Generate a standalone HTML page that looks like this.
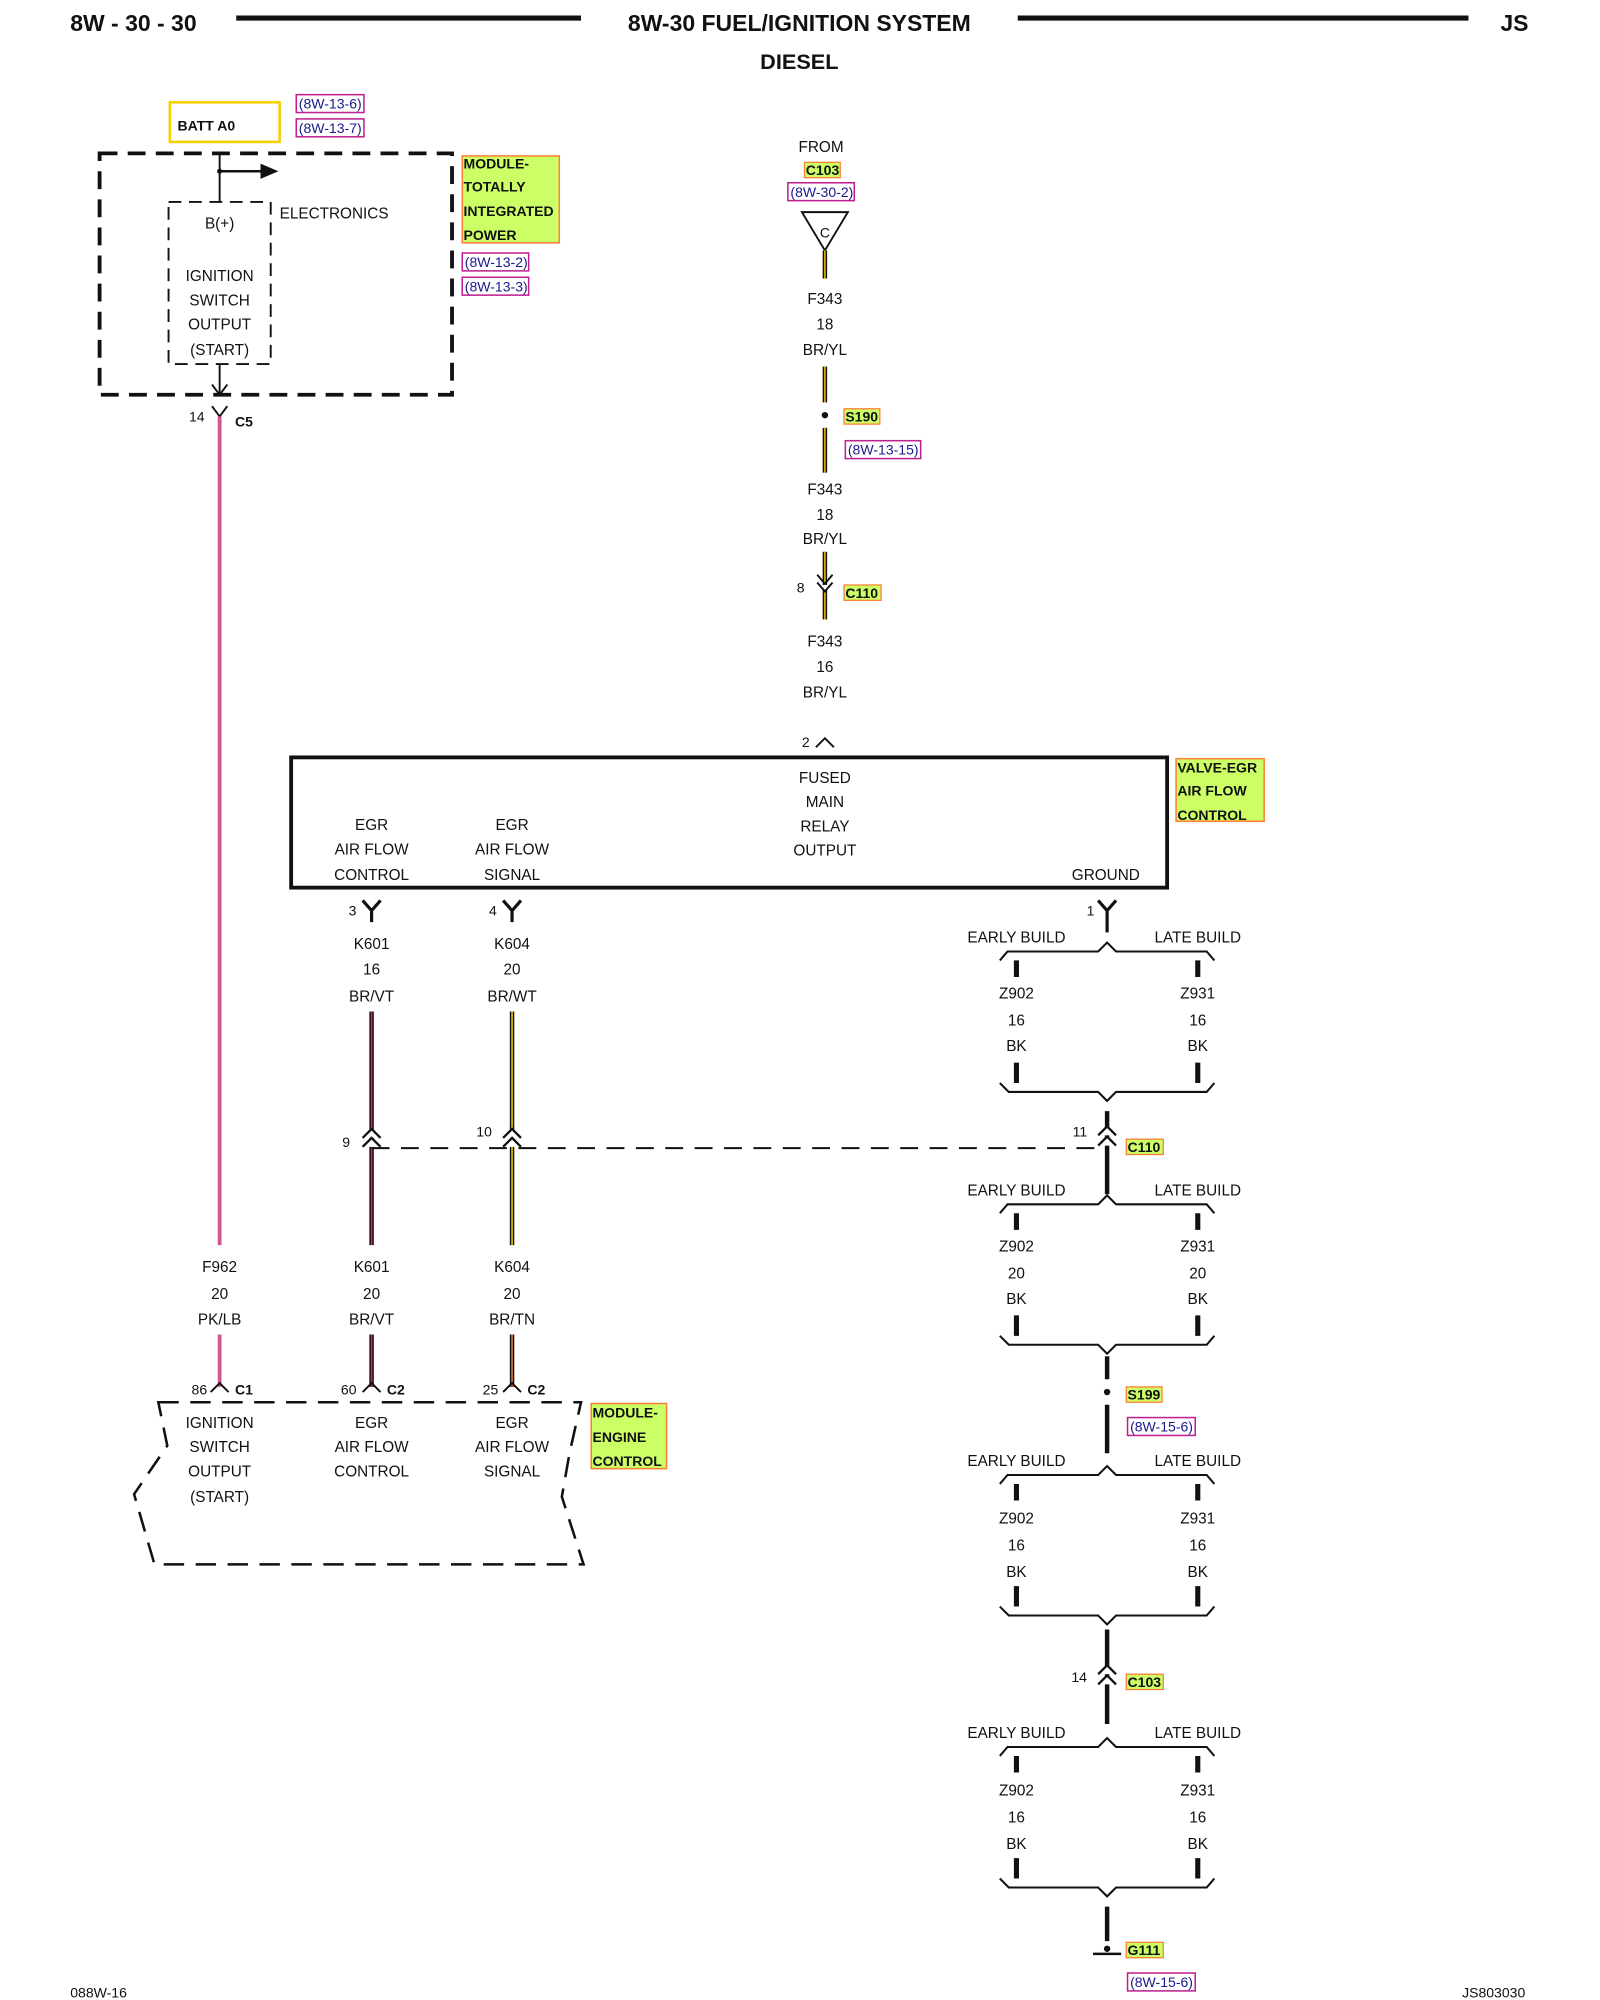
<!DOCTYPE html>
<html><head><meta charset="utf-8"><style>
html,body{margin:0;padding:0;background:#fff}
svg{display:block}
text{font-family:"Liberation Sans",Arial,sans-serif;font-size:12px;fill:#111}
.b{font-weight:bold}
.c{text-anchor:middle}
.lab{font-weight:bold;font-size:11px}
.ref{font-size:11px;fill:#1a1a8c}
</style></head><body>
<svg width="1600" height="2000" viewBox="0 0 1253 1566" xmlns="http://www.w3.org/2000/svg">
<defs>
<g id="grp">
 <text x="796" y="-7" class="c">EARLY BUILD</text>
 <text x="938" y="-7" class="c">LATE BUILD</text>
 <path d="M783,7 L789,0 L860,0 L867,-7 L874,0 L945,0 L951,7" fill="none" stroke="#111" stroke-width="1.6"/>
 <path d="M796,7 V20 M938,7 V20 M796,87 V103 M938,87 V103" stroke="#111" stroke-width="4"/>
 <path d="M783,103 L790,110 L860,110 L867,117 L874,110 L945,110 L951,103" fill="none" stroke="#111" stroke-width="1.6"/>
</g>
</defs>
<!-- header -->
<text x="55" y="24" class="b" style="font-size:18px">8W - 30 - 30</text>
<line x1="185" y1="14" x2="455" y2="14" stroke="#111" stroke-width="4"/>
<text x="626" y="24" class="b c" style="font-size:18px">8W-30 FUEL/IGNITION SYSTEM</text>
<line x1="797" y1="14" x2="1150" y2="14" stroke="#111" stroke-width="4"/>
<text x="1175" y="24" class="b" style="font-size:18px">JS</text>
<text x="626" y="54" class="b c" style="font-size:17px">DIESEL</text>

<!-- BATT A0 -->
<rect x="133" y="80" width="86" height="31" fill="none" stroke="#f5d000" stroke-width="2"/>
<text x="139" y="102" class="lab">BATT A0</text>
<rect x="232" y="74" width="53" height="14" fill="none" stroke="#c0208f" stroke-width="1.2"/>
<text x="234" y="85" class="ref">(8W-13-6)</text>
<rect x="232" y="93" width="53" height="14" fill="none" stroke="#c0208f" stroke-width="1.2"/>
<text x="234" y="104" class="ref">(8W-13-7)</text>

<!-- TIPM -->
<rect x="78" y="120" width="276" height="189" fill="none" stroke="#111" stroke-width="3" stroke-dasharray="14,8"/>
<rect x="132" y="158" width="80" height="127" fill="none" stroke="#111" stroke-width="1.5" stroke-dasharray="10,6"/>
<line x1="172" y1="120" x2="172" y2="158" stroke="#111" stroke-width="1.5"/>
<circle cx="172" cy="134" r="2" fill="#111"/>
<line x1="172" y1="134" x2="205" y2="134" stroke="#111" stroke-width="2"/>
<path d="M204,128 L218,134 L204,140 Z" fill="#111"/>
<text x="219" y="171">ELECTRONICS</text>
<text x="172" y="179" class="c">B(+)</text>
<text x="172" y="220" class="c">IGNITION</text>
<text x="172" y="239" class="c">SWITCH</text>
<text x="172" y="258" class="c">OUTPUT</text>
<text x="172" y="278" class="c">(START)</text>
<line x1="172" y1="285" x2="172" y2="309" stroke="#111" stroke-width="1.5"/>
<path d="M166,301 L172,309 L178,301" fill="none" stroke="#111" stroke-width="1.5"/>
<rect x="362" y="122" width="76" height="68" fill="#ccff66" stroke="#ff7f33" stroke-width="1.2"/>
<text x="363" y="132" class="lab">MODULE-</text>
<text x="363" y="150" class="lab">TOTALLY</text>
<text x="363" y="169" class="lab">INTEGRATED</text>
<text x="363" y="188" class="lab">POWER</text>
<rect x="362" y="198" width="52" height="14" fill="none" stroke="#c0208f" stroke-width="1.2"/>
<text x="364" y="209" class="ref">(8W-13-2)</text>
<rect x="362" y="217" width="52" height="14" fill="none" stroke="#c0208f" stroke-width="1.2"/>
<text x="364" y="228" class="ref">(8W-13-3)</text>

<!-- F962 wire -->
<text x="148" y="330" style="font-size:11px">14</text>
<path d="M166,318 L172,326 L178,318" fill="none" stroke="#111" stroke-width="1.5"/>
<text x="184" y="334" class="lab">C5</text>
<line x1="172" y1="326" x2="172" y2="975" stroke="#e0508a" stroke-width="3"/>
<line x1="172" y1="326" x2="172" y2="975" stroke="#6a7fd8" stroke-width="1"/>
<text x="172" y="996" class="c">F962</text>
<text x="172" y="1017" class="c">20</text>
<text x="172" y="1037" class="c">PK/LB</text>
<line x1="172" y1="1045" x2="172" y2="1086" stroke="#e0508a" stroke-width="3"/>
<line x1="172" y1="1045" x2="172" y2="1086" stroke="#6a7fd8" stroke-width="1"/>
<path d="M165,1090 L172,1083 L179,1090" fill="none" stroke="#111" stroke-width="1.5"/>
<text x="150" y="1092" style="font-size:11px">86</text>
<text x="184" y="1092" class="lab">C1</text>

<!-- center F343 -->
<text x="643" y="119" class="c">FROM</text>
<rect x="630" y="127" width="28" height="12" fill="#ccff66" stroke="#ff7f33"/>
<text x="631" y="137" class="lab">C103</text>
<rect x="617" y="143" width="52" height="14" fill="none" stroke="#c0208f" stroke-width="1.2"/>
<text x="619" y="154" class="ref">(8W-30-2)</text>
<path d="M628,166 L664,166 L646,196 Z" fill="none" stroke="#111" stroke-width="1.5"/>
<text x="646" y="186" class="c" style="font-size:11px">C</text>
<g stroke-width="3.5">
<line x1="646" y1="196" x2="646" y2="218" stroke="#111"/>
<line x1="646" y1="287" x2="646" y2="315" stroke="#111"/>
<line x1="646" y1="335" x2="646" y2="370" stroke="#111"/>
<line x1="646" y1="432" x2="646" y2="458" stroke="#111"/>
<line x1="646" y1="462" x2="646" y2="485" stroke="#111"/>
</g>
<g stroke-width="1.2" stroke="#f0c000">
<line x1="646" y1="196" x2="646" y2="218"/>
<line x1="646" y1="287" x2="646" y2="315"/>
<line x1="646" y1="335" x2="646" y2="370"/>
<line x1="646" y1="432" x2="646" y2="458"/>
<line x1="646" y1="462" x2="646" y2="485"/>
</g>
<text x="646" y="238" class="c">F343</text>
<text x="646" y="258" class="c">18</text>
<text x="646" y="278" class="c">BR/YL</text>
<circle cx="646" cy="325" r="2.5" fill="#111"/>
<rect x="661" y="320" width="28" height="12" fill="#ccff66" stroke="#ff7f33"/>
<text x="662" y="330" class="lab">S190</text>
<rect x="662" y="345" width="59" height="14" fill="none" stroke="#c0208f" stroke-width="1.2"/>
<text x="664" y="356" class="ref">(8W-13-15)</text>
<text x="646" y="387" class="c">F343</text>
<text x="646" y="407" class="c">18</text>
<text x="646" y="426" class="c">BR/YL</text>
<path d="M640,450 L646,457 L652,450 M640,456 L646,463 L652,456" fill="none" stroke="#111" stroke-width="1.5"/>
<text x="624" y="464" style="font-size:11px">8</text>
<rect x="661" y="458" width="29" height="12" fill="#ccff66" stroke="#ff7f33"/>
<text x="662" y="468" class="lab">C110</text>
<text x="646" y="506" class="c">F343</text>
<text x="646" y="526" class="c">16</text>
<text x="646" y="546" class="c">BR/YL</text>
<line x1="646" y1="556" x2="646" y2="578" stroke="#111" stroke-width="0"/>
<path d="M639,585 L646,578 L653,585" fill="none" stroke="#111" stroke-width="1.5"/>
<text x="628" y="585" style="font-size:11px">2</text>

<!-- main box -->
<rect x="228" y="593" width="686" height="102" fill="none" stroke="#111" stroke-width="3"/>
<text x="646" y="613" class="c">FUSED</text>
<text x="646" y="632" class="c">MAIN</text>
<text x="646" y="651" class="c">RELAY</text>
<text x="646" y="670" class="c">OUTPUT</text>
<text x="291" y="650" class="c">EGR</text>
<text x="291" y="669" class="c">AIR FLOW</text>
<text x="291" y="689" class="c">CONTROL</text>
<text x="401" y="650" class="c">EGR</text>
<text x="401" y="669" class="c">AIR FLOW</text>
<text x="401" y="689" class="c">SIGNAL</text>
<text x="866" y="689" class="c">GROUND</text>
<rect x="921" y="594" width="69" height="49" fill="#ccff66" stroke="#ff7f33" stroke-width="1.2"/>
<text x="922" y="605" class="lab">VALVE-EGR</text>
<text x="922" y="623" class="lab">AIR FLOW</text>
<text x="922" y="642" class="lab">CONTROL</text>

<!-- EGR wires -->
<path d="M284,705 L291,713 L298,705 M291,713 V722" fill="none" stroke="#111" stroke-width="2.5"/>
<path d="M394,705 L401,713 L408,705 M401,713 V722" fill="none" stroke="#111" stroke-width="2.5"/>
<text x="273" y="717" style="font-size:11px">3</text>
<text x="383" y="717" style="font-size:11px">4</text>
<text x="291" y="743" class="c">K601</text>
<text x="291" y="763" class="c">16</text>
<text x="291" y="784" class="c">BR/VT</text>
<text x="401" y="743" class="c">K604</text>
<text x="401" y="763" class="c">20</text>
<text x="401" y="784" class="c">BR/WT</text>
<g stroke="#111" stroke-width="3.5">
<line x1="291" y1="792" x2="291" y2="975"/><line x1="401" y1="792" x2="401" y2="975"/>
<line x1="291" y1="1045" x2="291" y2="1086"/><line x1="401" y1="1045" x2="401" y2="1086"/>
</g>
<g stroke-width="1.2">
<line x1="291" y1="792" x2="291" y2="975" stroke="#e02040"/><line x1="401" y1="792" x2="401" y2="975" stroke="#f0d000"/>
<line x1="291" y1="1045" x2="291" y2="1086" stroke="#e02040"/><line x1="401" y1="1045" x2="401" y2="1086" stroke="#e08040"/>
</g>
<path d="M284,891 L291,884 L298,891 M284,898 L291,891 L298,898 M394,891 L401,884 L408,891 M394,898 L401,891 L408,898" fill="#fff" stroke="#111" stroke-width="1.8"/>
<text x="268" y="898" style="font-size:11px">9</text>
<text x="373" y="890" style="font-size:11px">10</text>
<line x1="291" y1="899" x2="862" y2="899" stroke="#111" stroke-width="1.5" stroke-dasharray="14,9"/>
<text x="291" y="996" class="c">K601</text>
<text x="291" y="1017" class="c">20</text>
<text x="291" y="1037" class="c">BR/VT</text>
<text x="401" y="996" class="c">K604</text>
<text x="401" y="1017" class="c">20</text>
<text x="401" y="1037" class="c">BR/TN</text>
<path d="M284,1090 L291,1083 L298,1090 M394,1090 L401,1083 L408,1090" fill="none" stroke="#111" stroke-width="1.5"/>
<text x="267" y="1092" style="font-size:11px">60</text>
<text x="303" y="1092" class="lab">C2</text>
<text x="378" y="1092" style="font-size:11px">25</text>
<text x="413" y="1092" class="lab">C2</text>

<!-- ECM -->
<path d="M124,1098 L455,1098 L446,1138 L440,1172 L457,1225 L121,1225 L105,1170 L131,1132 Z" fill="none" stroke="#111" stroke-width="2" stroke-dasharray="16,9"/>
<text x="172" y="1118" class="c">IGNITION</text>
<text x="172" y="1137" class="c">SWITCH</text>
<text x="172" y="1156" class="c">OUTPUT</text>
<text x="172" y="1176" class="c">(START)</text>
<text x="291" y="1118" class="c">EGR</text>
<text x="291" y="1137" class="c">AIR FLOW</text>
<text x="291" y="1156" class="c">CONTROL</text>
<text x="401" y="1118" class="c">EGR</text>
<text x="401" y="1137" class="c">AIR FLOW</text>
<text x="401" y="1156" class="c">SIGNAL</text>
<rect x="463" y="1099" width="59" height="51" fill="#ccff66" stroke="#ff7f33" stroke-width="1.2"/>
<text x="464" y="1110" class="lab">MODULE-</text>
<text x="464" y="1129" class="lab">ENGINE</text>
<text x="464" y="1148" class="lab">CONTROL</text>

<!-- ground chain -->
<path d="M860,705 L867,713 L874,705 M867,713 V730" fill="none" stroke="#111" stroke-width="2.5"/>
<text x="851" y="717" style="font-size:11px">1</text>
<use href="#grp" transform="translate(0,745)"/>
<text x="796" y="782" class="c">Z902</text><text x="796" y="803" class="c">16</text><text x="796" y="823" class="c">BK</text>
<text x="938" y="782" class="c">Z931</text><text x="938" y="803" class="c">16</text><text x="938" y="823" class="c">BK</text>
<line x1="867" y1="870" x2="867" y2="935" stroke="#111" stroke-width="3.5"/>
<path d="M860,889 L867,882 L874,889 M860,897 L867,890 L874,897" fill="#fff" stroke="#111" stroke-width="1.8"/>
<text x="840" y="890" style="font-size:11px">11</text>
<rect x="882" y="892" width="29" height="12" fill="#ccff66" stroke="#ff7f33"/>
<text x="883" y="902" class="lab">C110</text>

<use href="#grp" transform="translate(0,943)"/>
<text x="796" y="980" class="c">Z902</text><text x="796" y="1001" class="c">20</text><text x="796" y="1021" class="c">BK</text>
<text x="938" y="980" class="c">Z931</text><text x="938" y="1001" class="c">20</text><text x="938" y="1021" class="c">BK</text>
<line x1="867" y1="1062" x2="867" y2="1080" stroke="#111" stroke-width="3.5"/>
<circle cx="867" cy="1090" r="2.5" fill="#111"/>
<line x1="867" y1="1100" x2="867" y2="1138" stroke="#111" stroke-width="3.5"/>
<rect x="882" y="1086" width="28" height="12" fill="#ccff66" stroke="#ff7f33"/>
<text x="883" y="1096" class="lab">S199</text>
<rect x="883" y="1110" width="53" height="14" fill="none" stroke="#c0208f" stroke-width="1.2"/>
<text x="885" y="1121" class="ref">(8W-15-6)</text>

<use href="#grp" transform="translate(0,1155)"/>
<text x="796" y="1193" class="c">Z902</text><text x="796" y="1214" class="c">16</text><text x="796" y="1235" class="c">BK</text>
<text x="938" y="1193" class="c">Z931</text><text x="938" y="1214" class="c">16</text><text x="938" y="1235" class="c">BK</text>
<line x1="867" y1="1276" x2="867" y2="1350" stroke="#111" stroke-width="3.5"/>
<path d="M860,1311 L867,1304 L874,1311 M860,1319 L867,1312 L874,1319" fill="#fff" stroke="#111" stroke-width="1.8"/>
<text x="839" y="1317" style="font-size:11px">14</text>
<rect x="882" y="1311" width="29" height="12" fill="#ccff66" stroke="#ff7f33"/>
<text x="883" y="1321" class="lab">C103</text>

<use href="#grp" transform="translate(0,1368)"/>
<text x="796" y="1406" class="c">Z902</text><text x="796" y="1427" class="c">16</text><text x="796" y="1448" class="c">BK</text>
<text x="938" y="1406" class="c">Z931</text><text x="938" y="1427" class="c">16</text><text x="938" y="1448" class="c">BK</text>
<line x1="867" y1="1493" x2="867" y2="1520" stroke="#111" stroke-width="3.5"/>
<line x1="856" y1="1530" x2="878" y2="1530" stroke="#111" stroke-width="2"/>
<circle cx="867" cy="1526" r="2.5" fill="#111"/>
<rect x="882" y="1521" width="29" height="12" fill="#ccff66" stroke="#ff7f33"/>
<text x="883" y="1531" class="lab">G111</text>
<rect x="883" y="1545" width="53" height="14" fill="none" stroke="#c0208f" stroke-width="1.2"/>
<text x="885" y="1556" class="ref">(8W-15-6)</text>

<text x="55" y="1564" style="font-size:11px">088W-16</text>
<text x="1145" y="1564" style="font-size:11px">JS803030</text>
</svg>
</body></html>
